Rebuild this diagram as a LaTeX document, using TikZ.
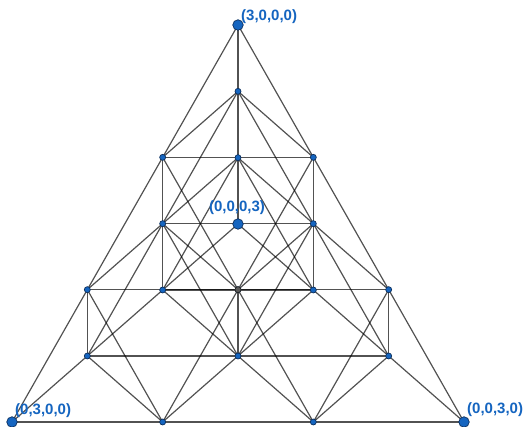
\documentclass[tikz,border=0pt]{standalone}
\usepackage{fontspec}
\setmainfont{Liberation Sans}
\definecolor{ptblue}{HTML}{1565C0}
\definecolor{ptedge}{HTML}{0D2F5C}
\begin{document}
\begin{tikzpicture}[x=1pt,y=1pt,
  edge/.style={draw=black,opacity=0.68,line width=1.2pt},
  dot/.style={circle,fill=ptblue,draw=ptedge,line width=0.7pt,inner sep=0pt,minimum size=6pt},
  bigdot/.style={dot,minimum size=10.5pt},
  graydot/.style={dot,fill=black!65,draw=black!85},
  lbl/.style={text=ptblue,font=\bfseries\fontsize{15}{15}\selectfont,inner sep=0pt}]
\useasboundingbox (0,0) rectangle (527,427);
% lattice points (a,b,c,d), a+b+c+d=3
\foreach \a in {0,...,3}{\foreach \b in {0,...,3}{\foreach \c in {0,...,3}{
  \pgfmathtruncatemacro\id{3-\a-\b-\c}
  \ifnum\id>-1
    \pgfmathsetmacro\px{(238*\a+12*\b+464*\c+238*\id)/3}
    \pgfmathsetmacro\py{427-(25*\a+422*\b+422*\c+224*\id)/3}
    \coordinate (v\a\b\c\id) at (\px,\py);
  \fi}}}
% edges of all small tetrahedra
\foreach \a in {0,1,2}{\foreach \b in {0,1,2}{\foreach \c in {0,1,2}{
  \pgfmathtruncatemacro\id{2-\a-\b-\c}
  \ifnum\id>-1
    \pgfmathtruncatemacro\ia{\a+1}
    \pgfmathtruncatemacro\ib{\b+1}
    \pgfmathtruncatemacro\ic{\c+1}
    \pgfmathtruncatemacro\idd{\id+1}
    \draw[edge] (v\ia\b\c\id) -- (v\a\ib\c\id);
    \draw[edge] (v\ia\b\c\id) -- (v\a\b\ic\id);
    \draw[edge] (v\ia\b\c\id) -- (v\a\b\c\idd);
    \draw[edge] (v\a\ib\c\id) -- (v\a\b\ic\id);
    \draw[edge] (v\a\ib\c\id) -- (v\a\b\c\idd);
    \draw[edge] (v\a\b\ic\id) -- (v\a\b\c\idd);
  \fi}}}
% dots
\foreach \a in {0,...,3}{\foreach \b in {0,...,3}{\foreach \c in {0,...,3}{
  \pgfmathtruncatemacro\id{3-\a-\b-\c}
  \ifnum\id>-1
    \node[dot] (d\a\b\c\id) at (v\a\b\c\id) {};
  \fi}}}
\node[graydot] (g1110) at (v1110) {};
\node[bigdot] (A) at (v3000) {};
\node[bigdot] (B) at (v0300) {};
\node[bigdot] (C) at (v0030) {};
\node[bigdot] (D) at (v0003) {};
% labels
\node[lbl,anchor=base west] (lA) at (241,406) {(3,0,0,0)};
\node[lbl,anchor=base] (lD) at (237,215) {(0,0,0,3)};
\node[lbl,anchor=base west] (lB) at (15,12) {(0,3,0,0)};
\node[lbl,anchor=base west] (lC) at (467,13) {(0,0,3,0)};
\end{tikzpicture}
\end{document}
